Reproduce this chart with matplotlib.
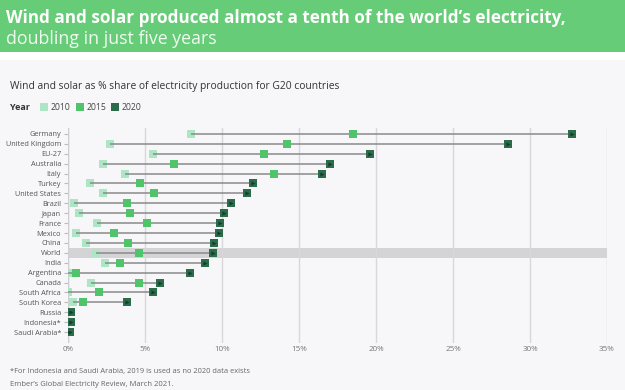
import matplotlib.pyplot as plt
from matplotlib.patches import Rectangle

plt.rcParams['font.family'] = ['Open Sans', 'DejaVu Sans']

# Data (share of electricity from wind + solar, %)
countries = ['Germany', 'United Kingdom', 'EU-27', 'Australia', 'Italy', 'Turkey',
             'United States', 'Brazil', 'Japan', 'France', 'Mexico', 'China', 'World',
             'India', 'Argentina', 'Canada', 'South Africa', 'South Korea', 'Russia',
             'Indonesia*', 'Saudi Arabia*']
share_2010 = [8.0, 2.7, 5.5, 2.3, 3.7, 1.4, 2.3, 0.4, 0.7, 1.9, 0.5, 1.2, 1.8,
              2.4, 0.0, 1.5, 0.0, 0.3, 0.0, 0.0, 0.0]
share_2015 = [18.5, 14.2, 12.7, 6.9, 13.4, 4.7, 5.6, 3.8, 4.0, 5.1, 3.0, 3.9, 4.6,
              3.4, 0.5, 4.6, 2.0, 1.0, 0.1, 0.1, 0.0]
share_2020 = [32.7, 28.6, 19.6, 17.0, 16.5, 12.0, 11.6, 10.6, 10.1, 9.9, 9.8, 9.5, 9.4,
              8.9, 7.9, 6.0, 5.5, 3.8, 0.2, 0.2, 0.1]
years = ['2010', '2015', '2020']
year_colors = ['#ace6c4', '#4fc46b', '#2b6c4b']
x_ticks = [0, 5, 10, 15, 20, 25, 30, 35]

fig = plt.figure(figsize=(6.25, 3.9), dpi=100)
fig.patch.set_facecolor('white')

# green header banner and light panel
fig.patches.append(Rectangle((0, 1 - 52 / 390), 1, 52 / 390, transform=fig.transFigure,
                             facecolor='#67cc78', edgecolor='none', zorder=0))
fig.patches.append(Rectangle((0, 0), 1, 1 - 60 / 390, transform=fig.transFigure,
                             facecolor='#f7f7f9', edgecolor='none', zorder=0))

fig.text(6 / 625, 1 - 18 / 390, "Wind and solar produced almost a tenth of the world\u2019s electricity,",
         color='white', fontsize=12.3, fontweight='bold', va='center')
fig.text(6 / 625, 1 - 39 / 390, "doubling in just five years",
         color='#eefaf0', fontsize=12.8, va='center')

fig.text(10 / 625, 1 - 87 / 390,
         "Wind and solar as % share of electricity production for G20 countries",
         color='#333333', fontsize=7.4, va='center')

# legend
fig.text(10 / 625, 1 - 107 / 390, "Year", color='#333333', fontsize=6.5, fontweight='bold', va='center')
leg_x = [40, 76, 111]
for lx, yr, c in zip(leg_x, years, year_colors):
    fig.patches.append(Rectangle((lx / 625, 1 - 111 / 390), 8 / 625, 8 / 390,
                                 transform=fig.transFigure, facecolor=c, edgecolor='none'))
    fig.text((lx + 11) / 625, 1 - 107 / 390, yr, color='#444444', fontsize=6.2, va='center')

ax = fig.add_axes([68 / 625, 1 - 343 / 390, (607 - 68) / 625, (343 - 128) / 390])
ax.set_zorder(2)
ax.set_facecolor('none')

n = len(countries)
ypos = list(range(n))

# highlight band for World
wi = countries.index('World')
ax.axhspan(wi - 0.5, wi + 0.5, color='#d4d4d6', zorder=0.5, lw=0)

ax.scatter(share_2010, ypos, marker='s', s=40, color=year_colors[0], zorder=2, lw=0)
for y, a, b in zip(ypos, share_2010, share_2020):
    ax.plot([a, b], [y, y], color='#8a8a8a', lw=1.1, zorder=2.5, solid_capstyle='butt')
ax.scatter(share_2015, ypos, marker='s', s=40, color=year_colors[1], zorder=3, lw=0)
ax.scatter(share_2020, ypos, marker='s', s=40, color=year_colors[2], zorder=4, lw=0)
ax.scatter(share_2020, ypos, marker='>', s=9, color='#173d2a', zorder=5, lw=0)

ax.set_xlim(0, 35)
ax.set_ylim(n + 0.1, -0.6)
ax.set_xticks(x_ticks)
ax.set_xticklabels([f'{t}%' for t in x_ticks])
ax.set_yticks(ypos)
ax.set_yticklabels(countries)
ax.grid(axis='x', color='#d8d8dc', lw=1, zorder=0)
ax.set_axisbelow(True)
for s in ax.spines.values():
    s.set_visible(False)
ax.axvline(0, color='#cfcfd3', lw=1, zorder=1)
ax.tick_params(axis='y', length=3, color='#bbbbbb', labelsize=5.3, labelcolor='#555555', pad=2)
ax.tick_params(axis='x', length=0, labelsize=5.8, labelcolor='#777777', pad=2)

fig.text(10 / 625, 1 - 372 / 390,
         "*For Indonesia and Saudi Arabia, 2019 is used as no 2020 data exists",
         color='#666666', fontsize=5.4, va='center')
fig.text(10 / 625, 1 - 384 / 390, "Ember\u2019s Global Electricity Review, March 2021.",
         color='#666666', fontsize=5.5, va='center')

fig.savefig('out.png', dpi=100)
